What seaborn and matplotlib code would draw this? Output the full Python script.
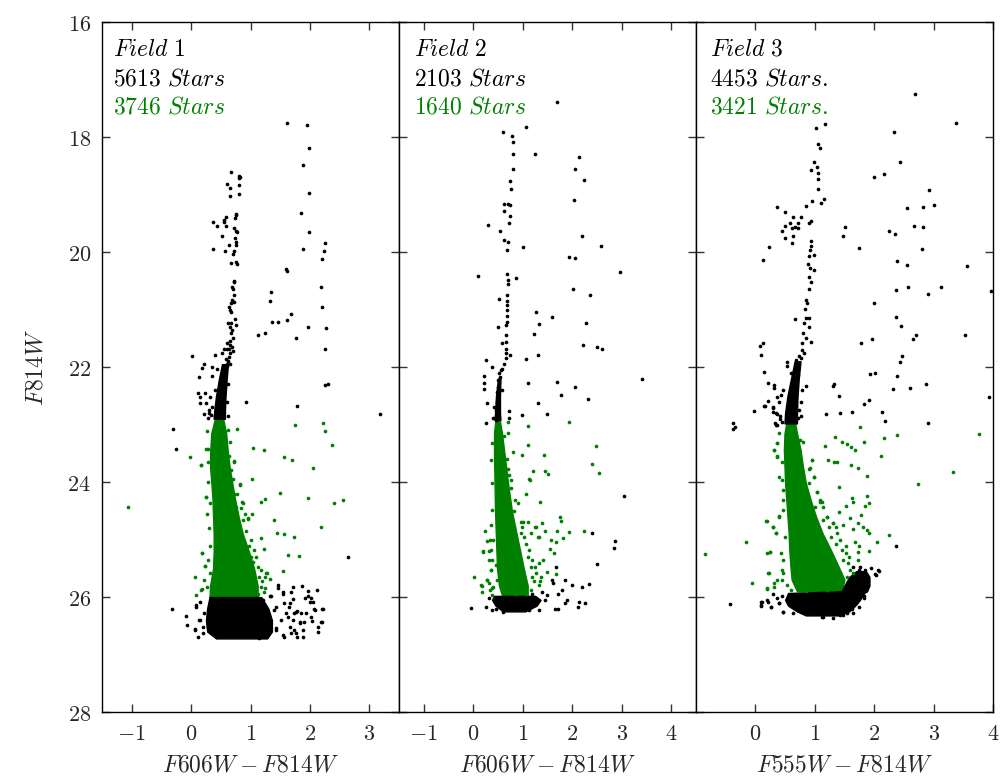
import numpy as np
import pandas as pd
import matplotlib
matplotlib.use("Agg")
import matplotlib.pyplot as plt
from matplotlib.ticker import FixedLocator, FuncFormatter
import seaborn as sns

# ---------------- data (colour, magnitude) ----------------
f1_black = [(1.62,17.75),(1.95,17.79),(1.98,18.19),(1.88,18.49),(1.99,18.97),(1.85,19.32),(1.98,19.65),(2.25,19.84),(2.23,19.98),(1.88,19.95),(2.20,20.12),(1.60,20.30),(1.61,20.33),(2.19,20.60),(1.34,20.70),(1.33,20.85),(2.20,20.95),(1.69,21.07),(1.36,21.22),(1.47,21.21),(1.62,21.19),(1.96,21.31),(2.27,21.32),(1.13,21.45),(1.24,21.41),(1.76,21.49),(2.26,21.69),(2.26,22.32),(2.31,22.30),(0.93,22.61),(1.78,22.68),(3.18,22.81),
 (0.67,18.61),(0.81,18.68),(0.80,18.72),(0.83,18.69),(0.60,18.82),(0.66,18.88),(0.80,18.84),(0.66,19.03),(0.81,18.99),(0.75,19.34),(0.76,19.35),(0.74,19.40),(0.59,19.39),(0.37,19.48),(0.43,19.54),(0.55,19.44),(0.55,19.47),(0.59,19.55),(0.73,19.58),(0.75,19.63),(0.77,19.66),(0.52,19.72),(0.64,19.87),(0.57,19.98),(0.37,19.94),(0.74,19.75),(0.76,19.83),(0.76,19.88),(0.72,19.98),(0.71,20.04),(0.68,20.19),(0.75,20.18),(0.77,20.20),(0.72,20.50),(0.73,20.53),(0.69,20.61),(0.71,20.65),(0.73,20.75),(0.69,20.84),(0.72,20.87),(0.68,20.89),(0.63,20.96),(0.65,21.01),(0.67,21.05),(0.62,21.23),(0.67,21.23),(0.74,21.17),(0.76,21.27),(0.66,21.30),(0.69,21.36),(0.68,21.41),(0.71,21.50),(0.66,21.54),(0.65,21.62),(0.69,21.65),(0.64,21.68),(0.61,21.69),(0.55,21.69),(0.66,21.76),(0.63,21.83),(0.52,21.76),(0.40,21.79),(0.02,21.81),(0.62,21.89),(0.61,21.94),(0.61,21.99),(0.22,21.95),(0.18,22.01),(0.14,22.17),(0.36,22.00),(0.44,22.03),(0.35,22.16),(0.53,22.11),(0.56,22.17),(0.11,22.45),(0.15,22.53),(0.24,22.46),(0.15,22.63),(0.25,22.62),(0.32,22.52),(0.22,22.81),(0.34,22.84),
 (0.60,21.58),(0.70,21.72),(0.58,21.86),(0.66,21.95),(0.48,22.25),(0.62,22.30),(0.40,22.40),(0.60,22.60),(0.36,22.70),(0.30,22.75),(0.28,22.88),
 (-0.30,23.07),(-0.26,23.43),(2.64,25.30),
 (-0.32,26.21),(-0.09,26.33),(-0.07,26.49),(0.07,26.56),(0.09,26.17),(0.15,26.08),(0.15,26.40),(0.20,26.52),(1.55,25.91),(1.71,25.82),(1.86,25.80),(1.97,25.90),(2.12,25.87),(1.92,26.01),(2.00,26.08),(2.08,26.23),(2.22,26.20),(2.20,26.44),(2.04,26.41),(2.13,26.52),(2.13,26.61),(1.88,26.57),(1.77,26.63),(1.66,26.52),(1.88,26.70),(1.55,26.66),(1.63,26.34),(1.77,26.26),(1.83,26.43),(1.43,26.17),(1.66,26.11),(1.32,25.99),(1.21,26.05),(1.27,26.40),(1.43,26.57),(1.15,26.72)]

f1_black_edge = [(1.46,25.79),(1.47,25.85),(1.54,25.94),(1.68,25.92),(1.96,25.99),(2.02,26.02),(2.06,26.08),(1.71,26.04),(1.57,26.11),(1.65,26.17),(1.79,26.25),(1.85,26.27),(1.93,26.28),(2.07,26.21),(2.21,26.20),(2.02,26.34),(2.19,26.43),(1.90,26.43),(1.84,26.46),(1.74,26.57),(1.79,26.69),(1.68,26.63),(1.57,26.69),(1.51,26.40),(1.60,26.28),(1.40,26.23),(1.34,25.99),(1.43,26.54),(1.71,26.40),(1.74,26.28),
 (0.06,26.57),(0.14,26.40),(0.08,26.14),(0.22,26.28),(0.20,26.63),(0.11,26.69),(0.40,22.86),(0.30,22.80),(0.62,22.85)]

f1_green = [(0.78,23.07),(1.04,23.40),(1.22,23.44),(1.56,23.56),(1.70,23.61),(2.06,23.75),(1.75,23.00),(2.22,22.97),(2.26,23.11),(2.37,23.36),(-0.02,23.57),(0.16,23.71),(-1.06,24.43),(1.03,23.94),(0.83,24.05),(1.49,24.19),(1.25,24.29),(1.17,24.35),(1.96,24.28),(2.41,24.36),(2.56,24.32),(0.25,24.26),(0.32,24.37),(0.86,24.35),(1.03,24.56),(0.96,24.65),(1.39,24.66),(2.18,24.79),(1.45,24.88),(1.56,24.91),(1.73,24.96),(1.17,24.98),(1.23,25.17),(1.63,25.27),(1.82,25.28),(0.18,25.23),(0.23,25.46),(1.55,25.55),(0.06,25.65),(0.18,25.86),(0.08,25.97),(1.27,25.58),(1.25,25.66),(1.33,25.68),(1.24,25.85),(0.28,23.43),(0.73,23.64),(0.67,23.97),(0.73,24.20),(0.76,24.43),(1.01,25.30)]

f1_green_edge = [(0.27,23.12),(0.25,23.43),(0.28,23.65),(0.17,23.70),(0.25,24.26),(0.27,24.55),(0.18,25.23),(0.24,25.46),(0.29,25.36),(0.22,25.70),(0.16,25.88),(0.27,25.82),(0.31,25.59),(0.32,25.12),(0.30,24.80),(0.29,24.00),
 (0.66,23.30),(0.73,23.65),(0.67,23.79),(0.83,24.04),(0.78,24.20),(0.87,24.36),(0.84,24.46),(0.90,24.55),(0.95,24.63),(0.87,24.66),(0.92,24.86),(1.01,25.01),(0.98,25.12),(1.06,25.18),(1.09,25.30),(1.04,25.39),(1.13,25.47),(1.18,25.53),(1.26,25.58),(1.15,25.65),(1.20,25.73),(1.17,25.82),(1.22,25.91),(1.12,25.94),(0.76,24.81),(0.81,24.92),(0.84,25.07),(0.92,25.24),(0.62,23.10),(0.64,23.55),(0.70,23.95)]

f2_black = [(1.69,17.39),(1.06,17.83),(0.60,17.91),(0.79,17.99),(0.81,18.09),(1.24,18.29),(0.81,18.30),(2.14,18.35),(0.81,18.55),(2.05,18.55),(2.24,18.74),(0.74,18.77),(0.77,18.90),(2.04,19.10),(0.62,19.17),(0.70,19.17),(0.75,19.19),(0.63,19.28),(0.75,19.37),(0.30,19.53),(0.73,19.50),(0.55,19.63),(0.63,19.79),(0.71,19.83),(2.19,19.73),(1.00,19.91),(2.58,19.90),(0.69,19.96),(1.94,20.09),(2.06,20.10),(0.09,20.41),(0.69,20.39),(0.86,20.45),(0.71,20.49),(0.71,20.55),(2.96,20.35),(2.02,20.64),(2.35,20.74),(0.52,20.81),(0.68,20.75),(0.69,20.85),(0.69,20.92),(0.69,21.00),(0.69,21.11),(0.69,21.21),(0.67,21.27),(0.49,21.30),(1.26,21.05),(1.59,21.13),(1.32,21.25),(2.28,21.24),(1.23,21.43),(0.67,21.44),(0.66,21.56),(0.59,21.59),(2.22,21.62),(2.51,21.65),(2.60,21.69),(0.66,21.68),(0.66,21.76),(0.75,21.79),(1.06,21.86),(1.30,21.79),(0.66,21.84),(0.25,21.87),(0.62,21.95),(0.38,22.00),(0.59,22.04),(0.53,22.10),(0.22,22.15),(0.54,22.17),(3.41,22.21),(0.21,22.27),(1.10,22.27),(1.69,22.26),(2.06,22.35),(0.22,22.38),(1.78,22.49),(2.31,22.56),(0.28,22.63),(1.30,22.62),(0.73,22.77),(0.73,22.88),(0.99,22.84),(1.49,22.82),
 (0.51,22.23),(0.49,22.34),(0.48,22.43),(0.51,22.52),(0.47,22.60),(0.50,22.69),(0.45,22.75),(0.49,22.83),(0.46,22.92),(0.56,22.05),(0.58,22.40),(0.42,22.70),(0.40,22.88),
 (0.26,22.97),(3.04,24.24),(2.39,24.89),(2.86,25.03),(2.84,25.14),(2.51,25.42),(1.67,25.47),(-0.05,26.19),(2.33,25.77),(2.19,25.82),(2.13,26.08),(2.26,26.11),(2.11,26.17),(1.89,26.05),(1.72,25.94),(1.79,25.88),(1.86,25.70),(1.59,25.70),(1.62,25.76),(1.99,25.79),(1.65,26.20),(1.72,26.21),(1.86,26.11),(1.45,26.05),(1.32,26.23),(0.26,26.17),(0.38,26.23),(0.46,26.20),(0.31,26.02),(0.61,26.26),(1.12,26.23),(1.18,25.94),(1.39,25.91),(1.48,25.97)]

f2_green = [(0.71,22.95),(0.71,23.15),(1.11,23.03),(1.93,22.96),(1.10,23.35),(0.81,23.48),(0.98,23.53),(1.42,23.53),(2.47,23.37),(2.39,23.69),(2.54,23.85),(1.20,23.81),(1.44,23.80),(1.52,23.86),(0.70,23.78),(1.14,23.96),(1.06,24.20),(1.35,24.34),(1.75,24.60),(1.77,24.67),(0.96,24.70),(1.10,24.70),(1.24,24.78),(1.39,24.71),(1.44,24.85),(1.69,24.85),(1.93,24.87),(2.24,24.86),(1.81,24.97),(1.57,25.01),(1.67,25.04),(1.32,24.95),(1.55,25.16),(1.63,25.23),(1.41,25.36),(1.49,25.56),(1.67,25.60),(0.23,24.86),(0.28,25.03),(0.19,25.20),(0.31,25.20),(0.38,25.36),(0.36,25.53),(0.01,25.65),(0.17,25.80),(0.18,25.91),(0.31,25.76),(0.38,25.85),(0.28,25.70),(1.25,25.47),(1.18,25.65),(1.35,25.73)]

f2_green_edge = [(0.72,23.88),(0.77,23.97),(1.12,23.95),(0.84,24.31),(0.90,24.37),(1.01,24.69),(0.99,24.78),(0.96,24.89),(1.02,24.95),(1.16,24.89),(1.26,24.78),(1.31,24.95),(1.06,25.07),(1.12,25.18),(1.10,25.30),(1.19,25.36),(1.33,25.41),(1.16,25.47),(1.26,25.59),(1.36,25.65),(1.22,25.73),(1.33,25.79),(1.16,25.88),(1.06,25.94),
 (0.34,25.01),(0.20,25.21),(0.35,25.18),(0.32,25.36),(0.35,25.53),(0.15,25.79),(0.28,25.70),(0.34,25.88),(0.38,25.97),(0.40,25.82),(0.35,24.75),(0.39,25.01),(0.38,24.49),(0.38,24.02),(0.36,23.62),(0.38,23.33),
 (0.62,23.20),(0.68,23.60),(0.76,24.10),(0.82,24.50),(0.45,25.45),(0.48,25.70),(0.62,25.92),(0.85,25.95)]

f3_black = [(2.69,17.26),(3.37,17.76),(1.18,17.78),(1.02,17.85),(2.33,17.91),(1.06,18.12),(1.09,18.19),(2.43,18.43),(0.98,18.43),(1.03,18.52),(0.94,18.57),(1.06,18.63),(1.99,18.69),(2.17,18.64),(1.06,18.73),(1.05,18.90),(2.92,18.93),(0.96,19.11),(1.11,19.14),(1.16,19.08),(0.37,19.21),(0.85,19.20),(2.56,19.23),(2.83,19.21),(3.01,19.19),(0.50,19.30),(0.64,19.39),(0.76,19.39),(0.72,19.50),(0.58,19.50),(0.94,19.46),(0.90,19.49),(0.50,19.55),(0.62,19.58),(0.66,19.56),(0.72,19.58),(0.45,19.63),(0.63,19.72),(0.50,19.75),(0.62,19.84),(0.23,19.92),(0.12,20.14),(1.51,19.57),(1.48,19.72),(2.25,19.64),(2.35,19.69),(2.67,19.54),(2.83,19.57),(1.75,19.93),(2.80,19.94),(0.93,19.81),(0.94,19.89),(0.92,19.97),(0.99,20.06),(0.90,20.07),(0.89,20.20),(0.92,20.28),(0.99,20.31),(0.91,20.43),(0.94,20.52),(0.91,20.65),(2.39,20.16),(2.55,20.23),(3.56,20.24),(2.36,20.66),(2.57,20.60),(2.91,20.73),(3.13,20.61),(3.96,20.68),(2.00,20.88),(0.85,20.84),(0.87,20.89),(0.83,20.99),(0.85,21.14),(0.66,21.16),(0.90,21.15),(2.36,21.13),(2.45,21.28),(0.82,21.24),(0.91,21.30),(0.80,21.41),(0.85,21.50),(0.78,21.59),(0.94,21.57),(1.77,21.59),(1.96,21.51),(2.66,21.51),(2.71,21.44),(3.53,21.45),(0.07,21.63),(0.12,21.59),(0.09,21.79),(2.46,21.80),(2.43,21.91),(2.38,22.16),(0.81,21.76),(0.77,21.85),(0.70,21.94),(0.54,21.91),(0.14,22.09),(1.93,22.13),(2.02,22.11),(0.85,22.33),(1.32,22.30),(1.30,22.33),(0.21,22.28),(0.32,22.31),(0.31,22.37),(1.40,22.51),(2.32,22.38),(2.61,22.37),(2.88,22.30),(3.94,22.53),(1.92,22.57),(1.82,22.64),(-0.03,22.76),(0.15,22.68),(0.22,22.59),(0.37,22.52),(0.43,22.49),(1.19,22.82),(1.43,22.80),(1.62,22.78),(2.13,22.78),(0.54,21.99),(0.60,22.11),(0.66,22.05),(0.63,22.23),(0.71,22.14),
 (0.78,21.70),(0.74,21.80),(0.68,21.87),(0.46,22.40),(0.40,22.60),(0.30,22.70),(0.35,22.80),(0.42,22.90),(0.78,22.40),(0.77,22.60),(0.76,22.85),
 (-0.38,22.98),(-0.35,23.04),(-0.37,23.07),(0.29,22.72),(0.37,22.81),(0.35,23.01),(2.19,22.94),(2.91,22.97),(2.37,25.12),(-0.42,26.12),(0.09,26.08),(0.09,26.14),(0.21,26.08),(0.26,26.18),(0.37,26.02),(0.40,26.11),(0.47,26.26),(1.64,25.47),(1.75,25.53),(1.81,25.59),(1.86,25.76),(2.03,25.62),(2.08,25.54),(1.69,26.05),(1.75,26.17),(1.64,26.28),(1.47,26.31),(1.13,26.34),(1.81,25.88),(1.83,25.99)]

f3_black_edge = [(0.11,26.08),(0.19,26.05),(0.27,26.17),(0.39,26.11),(0.44,25.99),(0.47,26.26),(0.55,26.05),(0.30,25.94),(0.09,26.15),
 (1.76,25.47),(1.85,25.53),(1.94,25.49),(2.07,25.53),(2.01,25.60),(1.82,25.70),(1.87,25.79),(1.79,25.94),(1.82,26.02),(1.70,26.11),(1.62,26.20),(1.54,26.28),(1.42,26.31),(1.31,26.37),(1.12,26.34),(0.86,26.28),(0.72,26.23),(0.64,26.27),
 (0.16,22.68),(0.30,22.78),(0.33,22.98),(0.36,23.01),(0.41,22.86),(0.72,22.89),(0.45,22.95),(0.74,22.75)]

f3_green = [(-0.85,25.25),(-0.15,25.05),(-0.05,25.76),(0.19,25.86),(0.22,25.59),(0.19,25.24),(0.24,25.22),(0.18,24.68),(0.30,24.78),(0.34,24.89),(0.40,24.59),(0.46,24.49),(0.32,23.44),(0.37,23.55),(0.36,23.33),(0.36,25.70),(0.45,25.53),(0.32,25.82),(3.76,23.17),(3.33,23.82),(2.74,24.04),(2.38,23.18),(2.16,23.23),(2.12,23.54),(1.76,23.05),(1.34,23.22),(1.46,23.31),(1.54,23.34),(1.61,23.39),(1.68,23.44),(1.83,23.30),(1.18,23.37),(1.22,23.61),(1.33,23.66),(1.38,23.65),(1.61,23.71),(1.73,23.75),(1.88,23.90),(0.95,23.62),(0.99,23.91),(0.91,23.78),(1.04,24.17),(1.41,24.08),(1.08,24.34),(1.13,24.43),(1.62,24.27),(1.64,24.34),(1.53,24.42),(1.84,24.42),(1.88,24.24),(1.92,24.36),(1.40,24.52),(1.60,24.62),(1.78,24.57),(1.21,24.60),(1.31,24.72),(1.35,24.78),(1.47,24.75),(1.73,24.72),(1.64,24.81),(1.81,24.78),(1.88,24.84),(1.92,24.89),(2.25,24.93),(2.05,25.04),(1.92,25.20),(1.73,25.22),(1.72,25.36),(1.58,25.30),(1.67,25.04),(1.53,25.12),(1.75,25.12)]

f3_green_edge = [(0.39,23.15),(0.36,23.33),(0.32,23.44),(0.37,23.56),(0.44,23.65),(0.46,24.14),(0.47,24.31),(0.40,24.60),(0.19,24.67),(0.30,24.78),(0.34,24.89),(0.50,24.95),(0.43,25.24),(0.25,25.21),(0.47,25.36),(0.23,25.59),(0.46,25.59),(0.32,25.76),(0.44,25.70),(0.19,25.85),(0.53,25.79),(0.40,23.91),(0.44,23.97),
 (0.75,23.27),(0.80,23.30),(0.95,23.61),(0.92,23.76),(0.99,23.92),(0.91,24.02),(1.04,24.17),(1.08,24.31),(1.12,24.34),(1.00,24.43),(1.21,24.60),(1.14,24.66),(1.24,24.78),(1.31,24.72),(1.27,24.95),(1.37,24.89),(1.36,25.07),(1.42,25.01),(1.45,25.18),(1.53,25.24),(1.48,25.36),(1.56,25.41),(1.59,25.53),(1.65,25.59),(1.54,25.65),(1.40,25.79),(1.14,25.01),(1.20,25.12),(1.28,25.30),(1.34,25.47),(1.42,25.59),(0.60,25.88),(0.85,25.90),(1.20,25.88)]

# dense cores (too crowded to resolve single stars): magnitude rows with left/right colour edges
f1_gcore_m = [22.9, 23.15, 23.5, 23.75, 24.0, 24.3, 24.6, 24.9, 25.2, 25.5, 25.8, 26.0]
f1_gcore_l = [0.40, 0.34, 0.32, 0.32, 0.34, 0.36, 0.37, 0.38, 0.38, 0.37, 0.32, 0.31]
f1_gcore_r = [0.54, 0.59, 0.62, 0.65, 0.69, 0.74, 0.80, 0.87, 0.97, 1.06, 1.12, 1.12]
f1_kstem_m = [21.95, 22.2, 22.5, 22.75, 22.9]
f1_kstem_l = [0.52, 0.47, 0.42, 0.39, 0.38]
f1_kstem_r = [0.62, 0.60, 0.58, 0.57, 0.57]
f1_kbot_m = [26.0, 26.2, 26.4, 26.6, 26.72]
f1_kbot_l = [0.31, 0.27, 0.25, 0.27, 0.42]
f1_kbot_r = [1.18, 1.30, 1.36, 1.36, 1.28]

f2_gcore_m = [22.9, 23.15, 23.5, 24.0, 24.5, 25.0, 25.5, 25.8, 25.97]
f2_gcore_l = [0.45, 0.42, 0.42, 0.43, 0.44, 0.46, 0.48, 0.52, 0.58]
f2_gcore_r = [0.53, 0.58, 0.63, 0.70, 0.78, 0.90, 1.02, 1.10, 1.10]
f2_kstem_m = [22.2, 22.5, 22.8, 22.92]
f2_kstem_l = [0.50, 0.46, 0.44, 0.43]
f2_kstem_r = [0.55, 0.54, 0.54, 0.55]
f2_kbot_m = [25.98, 26.05, 26.15, 26.25]
f2_kbot_l = [0.42, 0.38, 0.45, 0.60]
f2_kbot_r = [1.25, 1.36, 1.28, 1.05]

f3_gcore_m = [22.98, 23.15, 23.44, 23.73, 24.02, 24.31, 24.6, 24.89, 25.18, 25.47, 25.7, 25.9]
f3_gcore_l = [0.52, 0.49, 0.48, 0.49, 0.50, 0.52, 0.54, 0.56, 0.57, 0.59, 0.61, 0.70]
f3_gcore_r = [0.67, 0.70, 0.76, 0.80, 0.85, 0.93, 1.02, 1.13, 1.27, 1.40, 1.50, 1.45]
f3_kstem_m = [21.9, 22.2, 22.5, 22.8, 22.98]
f3_kstem_l = [0.66, 0.60, 0.54, 0.50, 0.49]
f3_kstem_r = [0.76, 0.73, 0.71, 0.70, 0.70]
f3_kbot_m = [25.55, 25.65, 25.8, 25.9, 25.93, 26.05, 26.15, 26.25, 26.32]
f3_kbot_l = [1.70, 1.58, 1.50, 1.45, 0.55, 0.50, 0.55, 0.70, 0.85]
f3_kbot_r = [1.86, 1.92, 1.92, 1.88, 1.83, 1.76, 1.68, 1.58, 1.40]

field_names = [r"$Field\ 1$", r"$Field\ 2$", r"$Field\ 3$"]
total_labels = [r"$5613\ Stars$", r"$2103\ Stars$", r"$4453\ Stars.$"]
green_labels = [r"$3746\ Stars$", r"$1640\ Stars$", r"$3421\ Stars.$"]
x_labels = [r"$F606W - F814W$", r"$F606W - F814W$", r"$F555W - F814W$"]
x_limits = [(-1.5, 3.5), (-1.5, 4.5), (-1.0, 4.0)]
x_ticks = [[-1, 0, 1, 2, 3], [-1, 0, 1, 2, 3, 4], [0, 1, 2, 3, 4]]
y_ticks = [16, 18, 20, 22, 24, 26, 28]
text_x = [0.037, 0.05, 0.047]

# ---------------- style ----------------
sns.set_style("ticks")
plt.rcParams["mathtext.fontset"] = "cm"
plt.rcParams["font.family"] = ["DejaVu Serif"]
plt.rcParams["axes.linewidth"] = 1.0

GREEN = "#008000"

fig, axes = plt.subplots(1, 3, figsize=(10.01, 7.78), dpi=100, sharey=True,
                         gridspec_kw=dict(wspace=0))
fig.subplots_adjust(left=0.1019, right=0.992, top=0.9717, bottom=0.0848)

panels = [
    (f1_black + f1_black_edge, f1_green + f1_green_edge,
     (f1_gcore_m, f1_gcore_l, f1_gcore_r), (f1_kstem_m, f1_kstem_l, f1_kstem_r), (f1_kbot_m, f1_kbot_l, f1_kbot_r)),
    (f2_black, f2_green + f2_green_edge,
     (f2_gcore_m, f2_gcore_l, f2_gcore_r), (f2_kstem_m, f2_kstem_l, f2_kstem_r), (f2_kbot_m, f2_kbot_l, f2_kbot_r)),
    (f3_black + f3_black_edge, f3_green + f3_green_edge,
     (f3_gcore_m, f3_gcore_l, f3_gcore_r), (f3_kstem_m, f3_kstem_l, f3_kstem_r), (f3_kbot_m, f3_kbot_l, f3_kbot_r)),
]

for i, (ax, (blk, grn, gcore, kstem, kbot)) in enumerate(zip(axes, panels)):
    # dense cores
    ax.fill_betweenx(gcore[0], gcore[1], gcore[2], color=GREEN, linewidth=1.0, edgecolor=GREEN, zorder=2)
    ax.fill_betweenx(kstem[0], kstem[1], kstem[2], color="k", linewidth=1.0, edgecolor="k", zorder=2)
    ax.fill_betweenx(kbot[0], kbot[1], kbot[2], color="k", linewidth=1.0, edgecolor="k", zorder=2)
    dfb = pd.DataFrame(blk, columns=["color", "mag"])
    dfg = pd.DataFrame(grn, columns=["color", "mag"])
    sns.scatterplot(data=dfb, x="color", y="mag", ax=ax, color="k", s=7, linewidth=0, legend=False, zorder=3)
    sns.scatterplot(data=dfg, x="color", y="mag", ax=ax, color=GREEN, s=7, linewidth=0, legend=False, zorder=3)

    ax.set_xlim(*x_limits[i])
    ax.set_ylim(28, 16)
    ax.xaxis.set_major_locator(FixedLocator(x_ticks[i]))
    ax.yaxis.set_major_locator(FixedLocator(y_ticks))
    ax.xaxis.set_major_formatter(FuncFormatter(lambda v, p: f"${int(round(v))}$"))
    ax.yaxis.set_major_formatter(FuncFormatter(lambda v, p: f"${int(round(v))}$"))
    ax.tick_params(direction="in", top=True, right=True, length=6, width=1,
                   labelsize=16, pad=8, color="#333333")
    ax.set_xlabel(x_labels[i], fontsize=17, labelpad=6)
    ax.set_ylabel("")
    for s in ax.spines.values():
        s.set_color("black")
        s.set_linewidth(1.0)
    if i > 0:
        ax.tick_params(labelleft=False)

    ax.text(text_x[i], 0.951, field_names[i], transform=ax.transAxes, fontsize=17, va="baseline", color="k")
    ax.text(text_x[i], 0.9087, total_labels[i], transform=ax.transAxes, fontsize=17, va="baseline", color="k")
    ax.text(text_x[i], 0.8677, green_labels[i], transform=ax.transAxes, fontsize=17, va="baseline", color=GREEN)

axes[0].set_ylabel(r"$F814W$", fontsize=17, labelpad=14)

fig.savefig("out.png", dpi=100)
